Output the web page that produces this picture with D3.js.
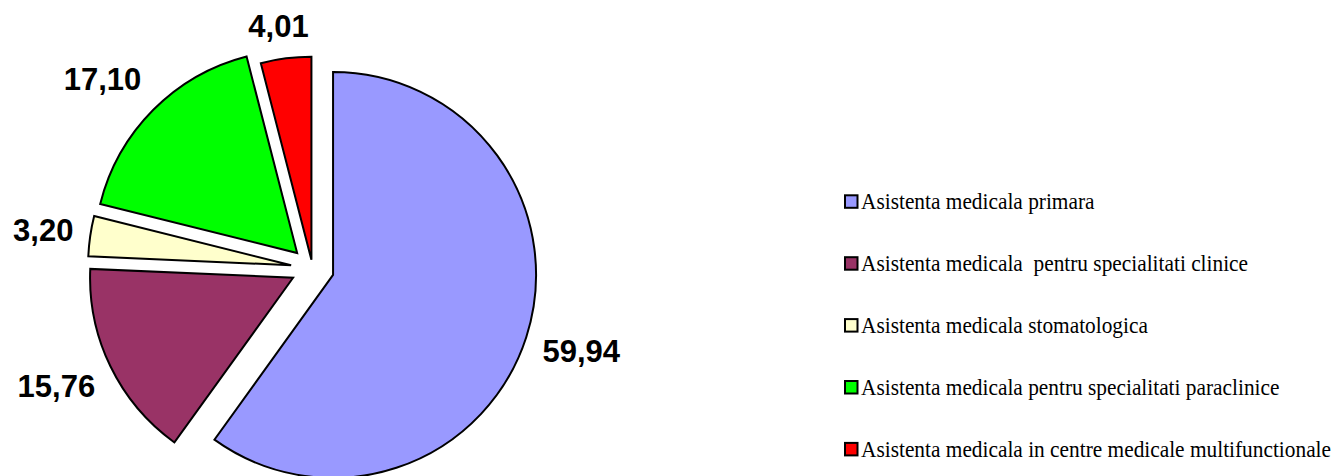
<!DOCTYPE html>
<html>
<head>
<meta charset="utf-8">
<script src="https://cdn.jsdelivr.net/npm/d3@7"></script>
<style>
  html, body { margin: 0; padding: 0; background: #fff; }
  svg { display: block; }
</style>
</head>
<body>
<svg id="chart" width="1336" height="476"></svg>
<script>
// Data
const categories = [
  "Asistenta medicala primara",
  "Asistenta medicala  pentru specialitati clinice",
  "Asistenta medicala stomatologica",
  "Asistenta medicala pentru specialitati paraclinice",
  "Asistenta medicala in centre medicale multifunctionale"
];
const values = [59.94, 15.76, 3.20, 17.10, 4.01];
const colors = ["#9999FF", "#993366", "#FFFFCC", "#00FF00", "#FF0000"];
// per-slice explosion distance (px)
const explosion = [21.6, 21.6, 21.6, 21.6, 8.5];

const svg = d3.select("#chart");

const cx = 312.5, cy = 268.3, R = 203;
const labelRx = 220, labelRy = 232, capH = 22;

const pie = d3.pie().sort(null).value(d => d.value).startAngle(0).endAngle(2 * Math.PI);
const arcs = pie(values.map((v, i) => ({ value: v, name: categories[i], color: colors[i], ex: explosion[i] })));
const arc = d3.arc().innerRadius(0).outerRadius(R);

const fmt = v => d3.format(".2f")(v).replace(".", ",");

const g = svg.append("g").attr("transform", `translate(${cx},${cy})`);

arcs.forEach(a => {
  const mid = (a.startAngle + a.endAngle) / 2;
  a.dx = Math.sin(mid);
  a.dy = -Math.cos(mid);
  a.ox = a.data.ex * a.dx;
  a.oy = a.data.ex * a.dy;
});

g.selectAll("path.slice")
  .data(arcs)
  .join("path")
  .attr("class", "slice")
  .attr("d", arc)
  .attr("transform", d => `translate(${d.ox},${d.oy})`)
  .attr("fill", d => d.data.color)
  .attr("stroke", "#000")
  .attr("stroke-width", 2)
  .attr("stroke-linejoin", "miter");

// Labels
const labels = g.selectAll("text.lbl")
  .data(arcs)
  .join("text")
  .attr("class", "lbl")
  .attr("font-family", "'Liberation Sans', Arial, sans-serif")
  .attr("font-weight", "bold")
  .attr("font-size", 31)
  .attr("fill", "#000")
  .attr("text-anchor", "middle")
  .text(d => fmt(d.data.value));

labels.each(function(d) {
  const w = this.getComputedTextLength();
  const offX = Math.sign(d.dx) * (w / 2) * Math.min(1, 1.4 * Math.abs(d.dx));
  const offY = Math.sign(d.dy) * (capH / 2) * Math.min(1, 1.4 * Math.abs(d.dy));
  let lx = d.ox + labelRx * d.dx + offX;
  let ly = d.oy + labelRy * d.dy + offY;
  // keep inside chart area
  const minTop = 15 - cy;
  if (ly - capH / 2 < minTop) ly = minTop + capH / 2;
  d3.select(this).attr("x", lx).attr("y", ly + capH / 2);
});

// Legend
const legX = 844, legY0 = 201.8, legStep = 61.9;
const leg = svg.append("g");
const rows = leg.selectAll("g.row")
  .data(categories)
  .join("g")
  .attr("class", "row")
  .attr("transform", (d, i) => `translate(${legX},${legY0 + i * legStep})`);

rows.append("rect")
  .attr("x", 1).attr("y", -6.5)
  .attr("width", 12.5).attr("height", 12.5)
  .attr("fill", (d, i) => colors[i])
  .attr("stroke", "#000")
  .attr("stroke-width", 2);

rows.append("text")
  .attr("transform", "translate(17,7.5) scale(0.89,1)")
  .attr("font-family", "'Liberation Serif', 'Times New Roman', serif")
  .attr("font-size", 24)
  .attr("fill", "#000")
  .attr("xml:space", "preserve")
  .style("white-space", "pre")
  .text(d => d);
</script>
</body>
</html>
